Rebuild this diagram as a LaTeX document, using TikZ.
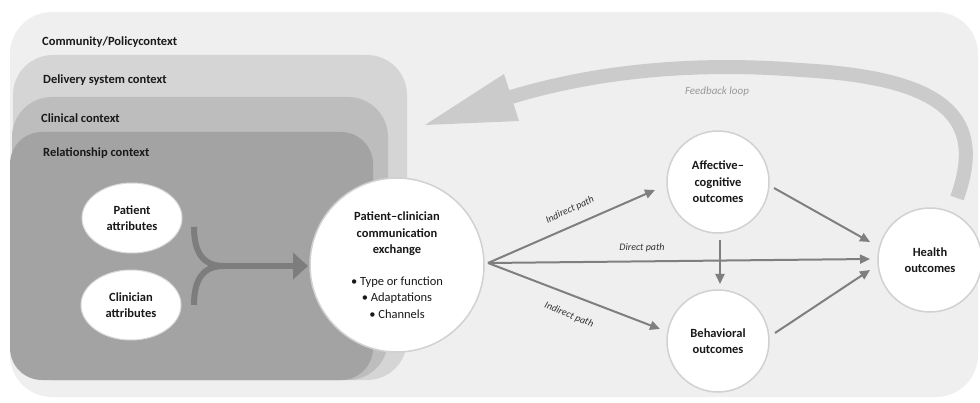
\documentclass[tikz,border=0pt]{standalone}
\usepackage{fontspec}
\setmainfont{Carlito}
\usetikzlibrary{arrows.meta,shapes.geometric}
\definecolor{bgc}{HTML}{EFEFEF}
\definecolor{delc}{HTML}{D5D5D5}
\definecolor{clinc}{HTML}{BDBDBD}
\definecolor{relc}{HTML}{A3A3A3}
\definecolor{forkc}{HTML}{7D7D7D}
\definecolor{fbc}{HTML}{CBCBCB}
\definecolor{arrc}{HTML}{7F7F7F}
\begin{document}
\begin{tikzpicture}[x=1pt,y=-1pt,
  ctxlabel/.style={font=\bfseries\fontsize{12.5}{14}\selectfont, anchor=west, inner sep=0pt, text=black!90},
  bubble/.style={circle, fill=white, draw=black!18, line width=1.5pt, align=center, inner sep=0pt,
    font=\bfseries\fontsize{12.5}{16.5}\selectfont, text=black!90},
  oval/.style={ellipse, fill=white, draw=black!15, line width=1pt, align=center, inner sep=0pt,
    minimum width=100pt, minimum height=70pt, font=\bfseries\fontsize{12.5}{16}\selectfont, text=black!90},
  fork/.style={draw=forkc, line width=6pt},
  pathway/.style={draw=arrc, line width=2pt, -{Triangle[length=10pt,width=9pt]}},
  pathlabel/.style={font=\itshape\fontsize{10}{12}\selectfont, text=black!80, inner sep=0pt}
]
\useasboundingbox (0,0) rectangle (980,403);
% context layers
\fill[bgc, rounded corners=42pt] (10,12) rectangle (978,397);
\fill[delc, rounded corners=40pt] (13,55) rectangle (407,380);
\fill[clinc, rounded corners=40pt] (12,97) rectangle (388,380);
\fill[relc, rounded corners=32pt] (10,132) rectangle (373,380);
\node[ctxlabel] (lcom) at (42,42) {Community/Policycontext};
\node[ctxlabel] (ldel) at (43,80) {Delivery system context};
\node[ctxlabel] (lcli) at (41,118) {Clinical context};
\node[ctxlabel] (lrel) at (43,153) {Relationship context};
% feedback loop
\coordinate (fbs) at (957,198);
\coordinate (fbm) at (800,70);
\coordinate (fbe) at (511,97);
\draw[fbc, line width=14pt] (fbs) .. controls (985,120) and (950,78) .. (fbm)
  .. controls (700,62) and (600,70) .. (fbe);
\coordinate (fbt) at (425,125);
\coordinate (fbb1) at (504,74);
\coordinate (fbb2) at (519,121);
\fill[fbc] (fbb1) -- (fbt) -- (fbb2) -- cycle;
\node[font=\itshape\fontsize{11}{12}\selectfont, text=black!40] (fbl) at (717,92) {Feedback loop};
% attributes
\node[oval] (pat) at (132,218) {Patient\\attributes};
\node[oval] (cli) at (131,305) {Clinician\\attributes};
\coordinate (fu) at (194,227);
\coordinate (fl) at (194,305);
\coordinate (fj) at (224,266);
\coordinate (ft) at (308,266);
\draw[fork] (fu) .. controls (194,254) and (204,266) .. (fj);
\draw[fork] (fl) .. controls (194,278) and (204,266) .. (fj);
\draw[fork, -{Triangle[length=15pt,width=26pt]}] (fj) -- (ft);
% main circle
\node[bubble, minimum size=174pt] (pce) at (397,265) {Patient--clinician\\communication\\exchange\\[15pt]
  {\mdseries\textbullet\ Type or function}\\{\mdseries\textbullet\ Adaptations}\\{\mdseries\textbullet\ Channels}};
% outcomes
\node[bubble, minimum size=102pt] (aff) at (718,182) {Affective--\\cognitive\\outcomes};
\node[bubble, minimum size=102pt] (beh) at (718,341) {Behavioral\\outcomes};
\node[bubble, minimum size=104pt] (hea) at (930,260) {Health\\outcomes};
% paths
\coordinate (src) at (488,263);
\coordinate (ia) at (655,190);
\coordinate (ib) at (660,329);
\coordinate (dh) at (870,259);
\coordinate (as) at (774,188);
\coordinate (ah) at (870,242);
\coordinate (bs) at (775,333);
\coordinate (bh) at (870,270);
\coordinate (ad) at (720,240);
\coordinate (bu) at (720,284);
\draw[pathway] (src) -- (ia);
\draw[pathway] (src) -- (ib);
\draw[pathway] (src) -- (dh);
\draw[pathway] (as) -- (ah);
\draw[pathway] (bs) -- (bh);
\draw[pathway] (ad) -- (bu);
\node[pathlabel, rotate=25] (lia) at (570,210) {Indirect path};
\node[pathlabel] (ldp) at (642,248) {Direct path};
\node[pathlabel, rotate=-22] (lib) at (569,315) {Indirect path};
\end{tikzpicture}
\end{document}
